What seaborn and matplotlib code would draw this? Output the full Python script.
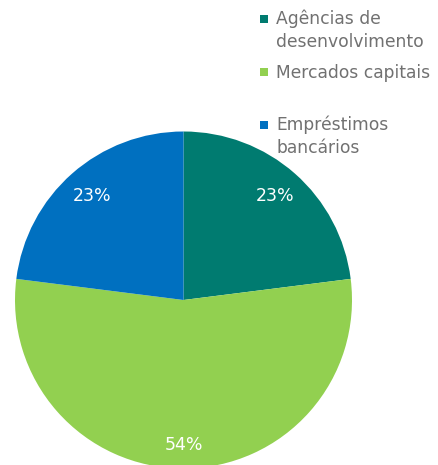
import matplotlib
matplotlib.use("Agg")
import matplotlib.pyplot as plt
import seaborn as sns
from matplotlib.patches import Rectangle

# Funding sources, share of total (%)
categories = ["Agências de\ndesenvolvimento", "Mercados capitais", "Empréstimos\nbancários"]
shares = [23, 54, 23]
colors = ["#007B70", "#92D050", "#0070C0"]

sns.set_theme(style="white")
plt.rcParams["font.family"] = ["DejaVu Sans"]

W, H = 439, 465
fig = plt.figure(figsize=(W / 100, H / 100), dpi=100)

# pie box in pixel terms: centre (183.5, 300) from top-left, radius 168.5
cx, cy, r = 183.5, 300.0, 168.5
ax = fig.add_axes([(cx - r) / W, (H - cy - r) / H, 2 * r / W, 2 * r / H])

wedges, texts, autotexts = ax.pie(
    shares,
    colors=colors,
    startangle=90,
    counterclock=False,
    autopct="%1.0f%%",
    pctdistance=0.82,
    radius=1.0,
    wedgeprops=dict(linewidth=0),
    textprops=dict(color="white", fontsize=12.5),
)
# the large slice carries its label a little further out
x1, y1 = autotexts[1].get_position()
autotexts[1].set_position((x1 * 0.863 / 0.82, y1 * 0.863 / 0.82))
ax.set_xlim(-1, 1)
ax.set_ylim(-1, 1)
ax.set_aspect("auto")
ax.axis("off")

# legend drawn by hand: square swatch next to the first line of each label
legend_color = "#717171"
first_baselines = [24.5, 77.5, 130]
line_gap = 22.5
sq = 8
for label, col, base in zip(categories, colors, first_baselines):
    ymid = base - 5
    fig.patches.append(Rectangle(((263.5 - sq / 2) / W, (H - ymid - sq / 2) / H),
                                 sq / W, sq / H, transform=fig.transFigure,
                                 facecolor=col, edgecolor="none"))
    for i, line in enumerate(label.split("\n")):
        fig.text(276 / W, (H - (base + i * line_gap)) / H, line,
                 ha="left", va="baseline", fontsize=12.3, color=legend_color)

fig.savefig("out.png", dpi=100)
